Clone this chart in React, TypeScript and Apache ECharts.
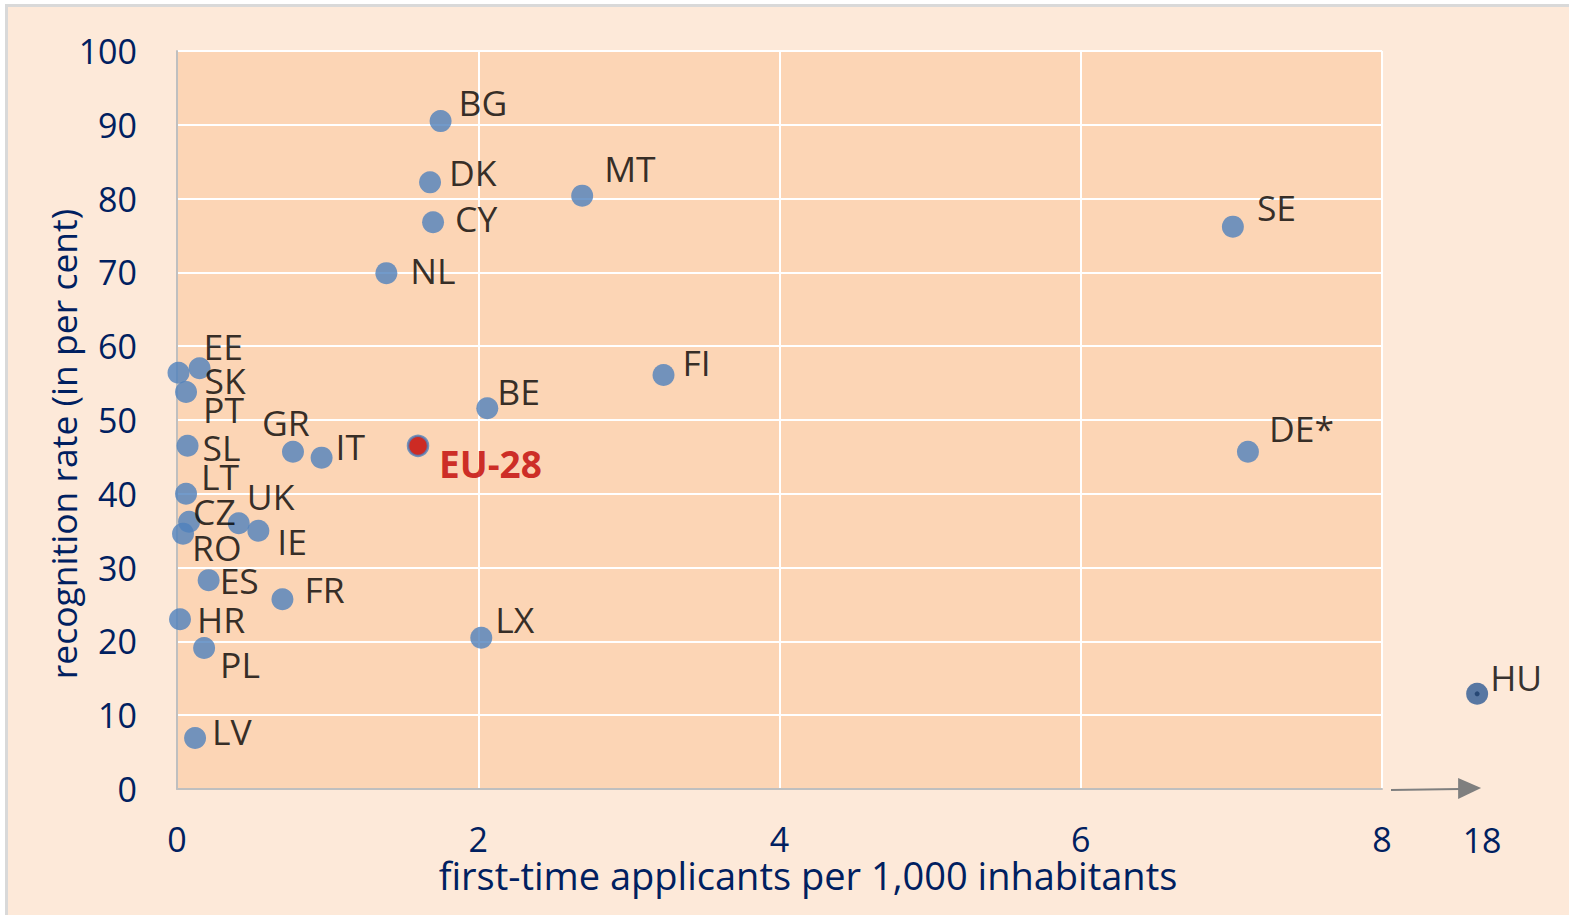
import React, { useEffect, useRef } from "react";
import * as echarts from "echarts";

// ---- data ----
const countries = ["BG", "DK", "CY", "MT", "NL", "SE", "FI", "BE", "DE*", "EU-28", "IT", "GR", "EE", "SK", "PT", "SL", "LT", "UK", "CZ", "IE", "RO", "ES", "FR", "HR", "PL", "LX", "LV", "HU"];
const applicantsPer1000 = [1.75, 1.68, 1.70, 2.69, 1.39, 7.01, 3.23, 2.06, 7.11, 1.60, 0.96, 0.77, 0.15, 0.01, 0.06, 0.07, 0.06, 0.41, 0.08, 0.54, 0.04, 0.21, 0.70, 0.02, 0.18, 2.02, 0.12, 17.9];
const recognitionRate = [90.5, 82.2, 76.8, 80.4, 69.9, 76.2, 56.1, 51.6, 45.7, 46.5, 44.9, 45.7, 57.0, 56.4, 53.8, 46.5, 40.0, 36.0, 36.2, 35.0, 34.6, 28.3, 25.7, 23.0, 19.1, 20.5, 6.9, 12.9];
const xTicks = [0, 2, 4, 6, 8];
const brokenAxisTicks = [18];
const xTitle = "first-time applicants per 1,000 inhabitants";
const yTitle = "recognition rate (in per cent)";

// ---- styles ----
const labelOffsets: Record<string, [number, number]> = {
  BG: [18, -19], DK: [19, -10], CY: [22, -4], MT: [22, -28], NL: [24, -3],
  SE: [24, -20], FI: [19, -13], BE: [10, -17], "DE*": [21, -24], "EU-28": [21, 18],
  IT: [14, -12], GR: [-31, -30], EE: [4, -22], SK: [26, 7], PT: [17, 17],
  SL: [15, 1], LT: [15, -18], UK: [8, -27], CZ: [4, -11], IE: [19, 10],
  RO: [9, 13], ES: [11, 0], FR: [22, -10], HR: [17, 0], PL: [16, 16],
  LX: [14, -19], LV: [17, -7], HU: [13, -17],
};
const FONT = "'Open Sans', 'Noto Sans', sans-serif";
const NAVY = "#002060";
const BREAK_AT = 8;
const BREAK_SCALE = 0.0638;
const axisPos = (v: number) => (v > BREAK_AT ? BREAK_AT + (v - BREAK_AT) * BREAK_SCALE : v);

export default function App() {
  const ref = useRef<HTMLDivElement>(null);
  useEffect(() => {
    if (!ref.current) return;
    const chart = echarts.init(ref.current, undefined, { renderer: "svg" });
    const data = countries.map((c, i) => {
      const item: any = {
        name: c,
        value: [axisPos(applicantsPer1000[i]), recognitionRate[i]],
        label: { offset: labelOffsets[c] || [15, 0] },
      };
      if (c === "EU-28") {
        item.symbolSize = 20;
        item.itemStyle = { color: "#C00000", borderColor: "#4F81BD", borderWidth: 2.5 };
        item.label = { offset: labelOffsets[c], color: "#C00000", fontWeight: "bold", fontSize: 37 };
      }
      if (c === "HU") {
        item.itemStyle = { color: "#2E5A94" };
      }
      return item;
    });
    const huIdx = countries.indexOf("HU");
    chart.setOption({
      animation: false,
      grid: { left: 177, right: 187, top: 51, bottom: 126, show: true, backgroundColor: "#FCD5B5", borderWidth: 0 },
      xAxis: {
        type: "value", min: 0, max: 8, interval: 2,
        axisLine: { show: true, onZero: false, lineStyle: { color: "#BFBFBF", width: 2 } },
        axisTick: { show: false },
        splitLine: { show: true, lineStyle: { color: "#FFFFFF", width: 2 } },
        axisLabel: { color: NAVY, fontSize: 34, fontFamily: FONT, margin: 33, customValues: xTicks },
      },
      yAxis: {
        type: "value", min: 0, max: 100, interval: 10,
        axisLine: { show: true, onZero: false, lineStyle: { color: "#BFBFBF", width: 2 } },
        axisTick: { show: false },
        splitLine: { show: true, lineStyle: { color: "#FFFFFF", width: 2 } },
        axisLabel: { color: NAVY, fontSize: 34, fontFamily: FONT, margin: 40 },
      },
      series: [
        {
          type: "scatter", clip: false, symbolSize: 22,
          itemStyle: { color: "#4F81BD" },
          label: {
            show: true, position: "inside", align: "left", verticalAlign: "middle",
            formatter: "{b}", color: "#000000", fontSize: 35.5, fontFamily: FONT, textBorderWidth: 0,
          },
          data,
        },
        {
          type: "scatter", clip: false, symbolSize: 5, silent: true,
          itemStyle: { color: "#1C3C6A" },
          data: [[axisPos(applicantsPer1000[huIdx]), recognitionRate[huIdx]]],
        },
      ],
    });
    const p8 = chart.convertToPixel({ xAxisIndex: 0 }, BREAK_AT) as number;
    const y0 = chart.convertToPixel({ yAxisIndex: 0 }, 0) as number;
    const graphics: any[] = [];
    brokenAxisTicks.forEach((t) => {
      const px = chart.convertToPixel({ xAxisIndex: 0 }, axisPos(t)) as number;
      graphics.push({
        type: "text", x: px + 4, y: y0 + 51,
        style: { text: String(t), fill: NAVY, font: `34px ${FONT}`, textAlign: "center", textVerticalAlign: "middle" },
      });
      graphics.push({
        type: "line", shape: { x1: p8 + 9, y1: y0 + 1, x2: px - 18, y2: y0 },
        style: { stroke: "#7F7F7F", lineWidth: 2 },
      });
      graphics.push({
        type: "polygon", shape: { points: [[px - 20, y0 - 11], [px + 3, y0 - 1], [px - 20, y0 + 10]] },
        style: { fill: "#7F7F7F" },
      });
    });
    graphics.push({
      type: "text", x: 808, y: 875,
      style: { text: xTitle, fill: NAVY, font: `38px ${FONT}`, textAlign: "center", textVerticalAlign: "middle" },
    });
    graphics.push({
      type: "text", x: 63, y: 444, rotation: Math.PI / 2,
      style: { text: yTitle, fill: NAVY, font: `35.5px ${FONT}`, textAlign: "center", textVerticalAlign: "middle" },
    });
    chart.setOption({ graphic: graphics });
    return () => chart.dispose();
  }, []);
  return (
    <div style={{ position: "fixed", left: 0, top: 0, width: 1569, height: 915, background: "#FFFFFF" }}>
      <div style={{ position: "absolute", left: 5, top: 4, width: 1600, height: 1000, background: "#FDE9D9", borderLeft: "3px solid #D9D9D9", borderTop: "3px solid #D9D9D9" }} />
      <div ref={ref} style={{ position: "absolute", left: 0, top: 0, width: 1569, height: 915 }} />
    </div>
  );
}
